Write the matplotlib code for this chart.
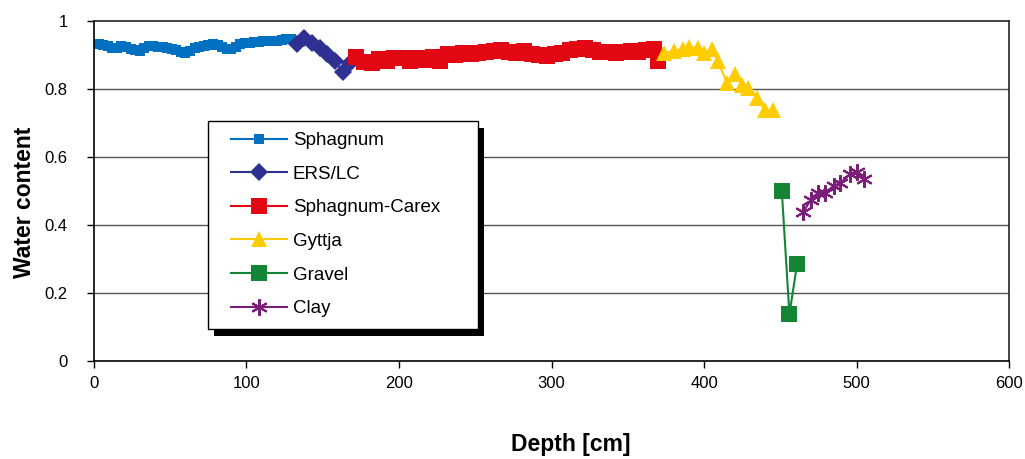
import matplotlib
matplotlib.use("Agg")
import matplotlib.pyplot as plt
from matplotlib.patches import Rectangle

plt.rcParams["font.family"] = ["Liberation Sans", "DejaVu Sans"]

# Water content profile by stratigraphic unit (depth in cm)
sphagnum_depth = [0, 3, 6, 9, 12, 15, 18, 21, 24, 27, 30, 33, 36, 39, 42, 45,
                  48, 51, 54, 57, 60, 63, 66, 69, 72, 75, 78, 81, 84, 87, 90,
                  93, 96, 99, 102, 105, 108, 111, 114, 117, 120, 123, 126, 129]
sphagnum_wc = [0.933, 0.934, 0.931, 0.926, 0.920, 0.922, 0.927, 0.925, 0.918,
               0.914, 0.912, 0.920, 0.926, 0.927, 0.925, 0.924, 0.921, 0.918,
               0.916, 0.910, 0.905, 0.912, 0.922, 0.925, 0.926, 0.930, 0.933,
               0.931, 0.925, 0.919, 0.918, 0.925, 0.932, 0.935, 0.936, 0.938,
               0.939, 0.940, 0.941, 0.940, 0.942, 0.943, 0.946, 0.947]

ers_depth = [133, 138, 143, 148, 153, 158, 163, 168]
ers_wc = [0.933, 0.950, 0.936, 0.920, 0.902, 0.884, 0.850, 0.877]

carex_depth = [172, 177, 182, 187, 192, 197, 202, 207, 212, 217, 222, 227,
               232, 237, 242, 247, 252, 257, 262, 267, 272, 277, 282, 287,
               292, 297, 302, 307, 312, 317, 322, 327, 332, 337, 342, 347,
               352, 357, 362, 367, 370]
carex_wc = [0.893, 0.880, 0.876, 0.888, 0.884, 0.892, 0.890, 0.882, 0.892,
            0.886, 0.895, 0.884, 0.902, 0.900, 0.905, 0.903, 0.906, 0.908,
            0.913, 0.916, 0.910, 0.905, 0.912, 0.904, 0.900, 0.896, 0.902,
            0.905, 0.915, 0.918, 0.920, 0.914, 0.910, 0.908, 0.906, 0.908,
            0.912, 0.910, 0.914, 0.918, 0.884]

gyttja_depth = [374, 380, 386, 390, 396, 400, 405, 409, 415, 420, 425, 429,
                435, 440, 445]
gyttja_wc = [0.906, 0.912, 0.918, 0.924, 0.921, 0.906, 0.918, 0.883, 0.819,
             0.845, 0.813, 0.804, 0.775, 0.737, 0.737]

gravel_depth = [451, 456, 461]
gravel_wc = [0.501, 0.137, 0.284]

clay_depth = [465, 470, 475, 479.5, 485, 489, 496, 500, 505]
clay_wc = [0.437, 0.474, 0.495, 0.493, 0.515, 0.522, 0.550, 0.556, 0.534]

x_ticks = [0, 100, 200, 300, 400, 500, 600]
y_ticks = [0, 0.2, 0.4, 0.6, 0.8, 1.0]
y_tick_labels = ["0", "0.2", "0.4", "0.6", "0.8", "1"]

fig = plt.figure(figsize=(10.25, 4.59), dpi=100)
ax = fig.add_axes([0.0917, 0.214, 0.8927, 0.740])

series = [
    ("Sphagnum", sphagnum_depth, sphagnum_wc, "#0070C0", "s", 7),
    ("ERS/LC", ers_depth, ers_wc, "#2E3192", "D", 9),
    ("Sphagnum-Carex", carex_depth, carex_wc, "#E30613", "s", 11),
    ("Gyttja", gyttja_depth, gyttja_wc, "#FFCC00", "^", 12),
    ("Gravel", gravel_depth, gravel_wc, "#138535", "s", 12),
    ("Clay", clay_depth, clay_wc, "#7B1E7A", (6, 2, 0), 12),
]

handles = []
for name, xs, ys, color, marker, ms in series:
    if name == "Clay":
        h, = ax.plot(xs, ys, color=color, lw=1.5, marker=marker, ms=ms,
                     mew=1.5, mec=color, label=name)
    else:
        h, = ax.plot(xs, ys, color=color, lw=1.5, marker=marker, ms=ms,
                     mec=color, mfc=color, mew=0, label=name)
    handles.append(h)

ax.set_xlim(0, 600)
ax.set_ylim(0, 1)
ax.set_xticks(x_ticks)
ax.set_yticks(y_ticks)
ax.set_yticklabels(y_tick_labels)
ax.tick_params(axis="both", labelsize=12, length=5, width=1, colors="black",
               direction="out")
ax.tick_params(axis="x", pad=6)
ax.tick_params(axis="y", pad=14)

for yv in y_ticks[1:-1]:
    ax.axhline(yv, color="#555555", lw=1.0, zorder=0)

for side in ["top", "right"]:
    ax.spines[side].set_color("#222222")
    ax.spines[side].set_linewidth(1.2)
for side in ["left", "bottom"]:
    ax.spines[side].set_color("black")
    ax.spines[side].set_linewidth(1.2)

ax.set_xlabel("Depth [cm]", fontsize=16.5, fontweight="bold")
ax.set_ylabel("Water content", fontsize=16.5, fontweight="bold")
ax.xaxis.set_label_coords(0.521, -0.214)
ax.yaxis.set_label_coords(-0.0636, 0.468)

# Legend: framed box with a black drop shadow, entries drawn inside it
box_x0, box_x1 = 0.1246, 0.4197
box_y0, box_y1 = 0.0936, 0.706
shadow = Rectangle((box_x0 + 0.0066, box_y0 - 0.0206), box_x1 - box_x0,
                   box_y1 - box_y0, transform=ax.transAxes, facecolor="black",
                   edgecolor="none", zorder=8, clip_on=False)
frame = Rectangle((box_x0, box_y0), box_x1 - box_x0, box_y1 - box_y0,
                  transform=ax.transAxes, facecolor="white",
                  edgecolor="black", linewidth=1.0, zorder=9, clip_on=False)
ax.add_patch(shadow)
ax.add_patch(frame)

leg = ax.legend(handles=handles, loc="upper left",
                bbox_to_anchor=(0.1421, 0.694), frameon=False,
                fontsize=13.5, handlelength=3.0, handletextpad=0.3,
                labelspacing=0.88, borderpad=0.37, borderaxespad=0,
                markerscale=1.0)
leg.set_zorder(10)

fig.savefig("out.png", dpi=100)
